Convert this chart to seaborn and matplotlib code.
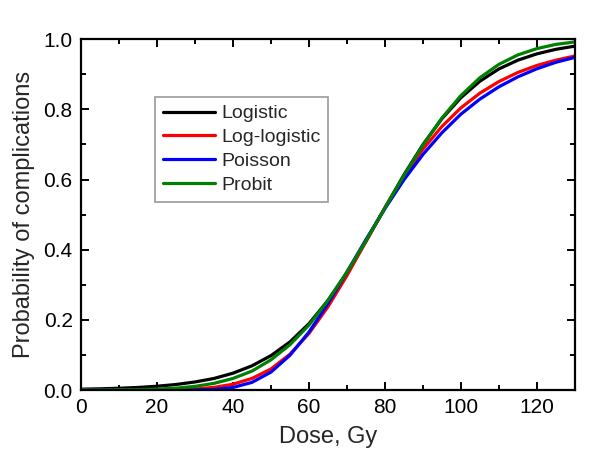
import pandas as pd
import matplotlib
matplotlib.use("Agg")
import matplotlib.pyplot as plt
from matplotlib.ticker import MultipleLocator, FormatStrFormatter
import seaborn as sns

# Dose grid (Gy) and probabilities
dose = [0, 5, 10, 15, 20, 25, 30, 35, 40, 45, 50, 55, 60, 65,
        70, 75, 80, 85, 90, 95, 100, 105, 110, 115, 120, 125, 130]

logistic = [0.0024, 0.0035, 0.0051, 0.0074, 0.0108, 0.0158, 0.023, 0.033, 0.048,
            0.069, 0.098, 0.137, 0.189, 0.255, 0.334, 0.424, 0.519, 0.613, 0.699,
            0.773, 0.833, 0.880, 0.915, 0.940, 0.958, 0.971, 0.980]
log_logistic = [0.0, 0.0, 0.0, 0.00005, 0.0003, 0.001, 0.003, 0.0075, 0.0166,
                0.033, 0.060, 0.102, 0.161, 0.237, 0.326, 0.423, 0.519, 0.608, 0.686,
                0.751, 0.804, 0.846, 0.879, 0.905, 0.925, 0.940, 0.952]
poisson = [0.0, 0.0, 0.0, 0.0, 0.0, 0.00003, 0.0003, 0.0018, 0.0073,
           0.0218, 0.051, 0.099, 0.165, 0.2465, 0.336, 0.4285, 0.517, 0.599, 0.671,
           0.733, 0.786, 0.829, 0.864, 0.8925, 0.9155, 0.934, 0.948]
probit = [0.0001, 0.0002, 0.0006, 0.0013, 0.0027, 0.0054, 0.0104, 0.019, 0.033,
          0.054, 0.086, 0.129, 0.185, 0.255, 0.336, 0.425, 0.519, 0.611, 0.698,
          0.775, 0.839, 0.890, 0.928, 0.955, 0.973, 0.985, 0.992]

models = ["Logistic", "Log-logistic", "Poisson", "Probit"]
colors = {"Logistic": "black", "Log-logistic": "red", "Poisson": "blue", "Probit": "green"}

df = pd.concat([
    pd.DataFrame({"dose": dose, "prob": vals, "model": name})
    for name, vals in zip(models, [logistic, log_logistic, poisson, probit])
])

sns.set_style("ticks")
plt.rcParams["font.family"] = ["Liberation Sans", "DejaVu Sans"]

fig = plt.figure(figsize=(6, 4.66), dpi=100)
ax = fig.add_axes([0.135, 0.163, 0.823, 0.753])

sns.lineplot(data=df, x="dose", y="prob", hue="model", hue_order=models,
             palette=colors, linewidth=2.3, ax=ax)

ax.set_xlim(0, 130)
ax.set_ylim(0, 1.0)
ax.xaxis.set_major_locator(MultipleLocator(20))
ax.xaxis.set_minor_locator(MultipleLocator(10))
ax.yaxis.set_major_locator(MultipleLocator(0.2))
ax.yaxis.set_minor_locator(MultipleLocator(0.1))
ax.yaxis.set_major_formatter(FormatStrFormatter("%.1f"))

ax.tick_params(which="both", direction="in", top=True, right=True,
               labelsize=15, width=1.4, colors="black")
ax.tick_params(which="major", length=6, pad=6)
ax.tick_params(which="minor", length=3.5)
for sp in ax.spines.values():
    sp.set_linewidth(1.6)
    sp.set_color("black")

ax.set_xlabel("Dose, Gy", fontsize=17, labelpad=6)
ax.set_ylabel("Probability of complications", fontsize=17, labelpad=6)

leg = ax.legend(loc="upper left", bbox_to_anchor=(0.15, 0.835), borderaxespad=0,
                fontsize=14, frameon=True, fancybox=False, framealpha=1,
                handlelength=2.7, handletextpad=0.3, labelspacing=0.32,
                borderpad=0.4)
leg.get_frame().set_edgecolor("#999999")
leg.get_frame().set_linewidth(1.2)
for line in leg.get_lines():
    line.set_linewidth(2.3)

fig.savefig("out.png", dpi=100)
